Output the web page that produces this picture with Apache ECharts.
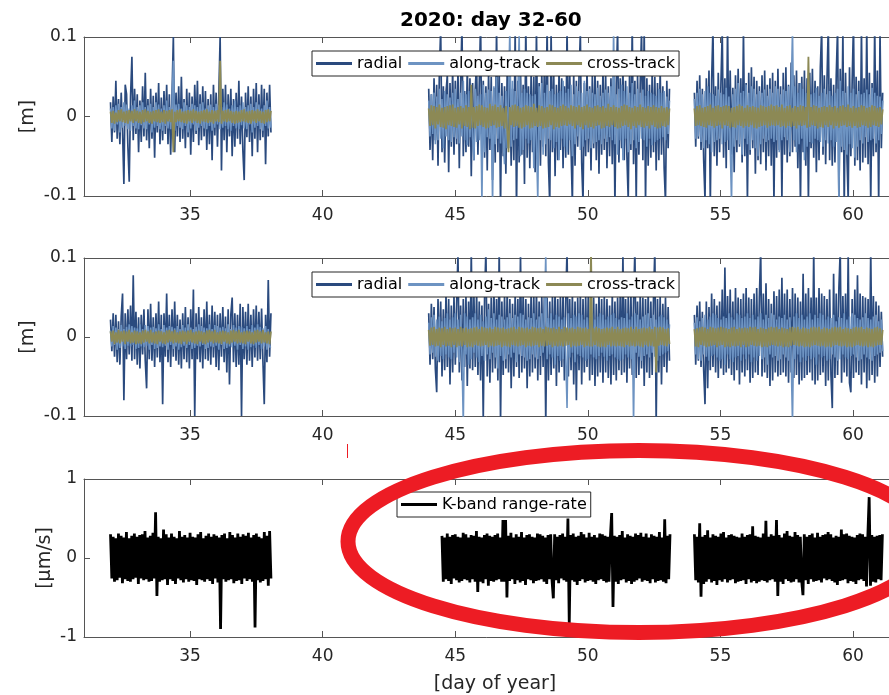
<!DOCTYPE html>
<html>
<head>
<meta charset="utf-8">
<title>2020: day 32-60</title>
<script src="https://cdn.jsdelivr.net/npm/echarts@6/dist/echarts.min.js"></script>
<style>
  html, body { margin: 0; padding: 0; background: #fff; }
  #chartDom { width: 889px; height: 695px; }
</style>
</head>
<body>
<div id="chartDom"></div>
<script>
// 时间段 (day of year)，每段的起止
const spansOrbit = [[32.0, 38.05], [44.0, 53.08], [54.02, 61.12]];
const spansKband = [[32.0, 38.05], [44.5, 53.1], [54.02, 61.11]];
const xTicks = [35, 40, 45, 50, 55, 60];

// 上图 [mm]，每 0.05 天一个值
const radial1 = [
  [18,-32,25,-20,45,-28,22,-35,30,-18,-85,40,28,-38,-82,25,75,-30,35,-22,
   28,-45,20,-32,38,-25,55,-30,22,-40,35,-28,26,-52,30,-20,42,-35,24,-30,
   32,-22,40,-35,28,-48,25,100,-45,30,-25,38,-32,50,-28,22,-40,35,-26,30,
   -48,25,-32,40,-22,45,-36,28,-30,38,-25,32,-42,22,-35,28,-55,40,-24,30,
   -38,26,100,-68,35,-30,40,-45,28,-25,35,-50,22,-38,30,-28,45,-35,25,-42,
   -80,30,-26,38,-32,25,-50,35,-28,42,-45,28,-30,40,-26,35,-60,30,-25,40,-20],
  [35,-42,28,-55,48,-30,40,-62,55,110,-45,38,-58,30,52,-70,42,-38,60,-48,
   45,-35,58,-65,40,115,-50,32,-45,62,-38,48,-75,42,-55,35,68,-48,40,120,
   -60,45,-52,38,-68,55,-42,50,-80,36,-58,112,-45,60,-115,42,-50,38,-72,58,
   -40,48,-62,35,-55,108,-120,45,-58,62,-48,40,-85,118,-52,38,-65,55,-45,50,
   -70,110,-48,42,-62,55,-38,68,-50,115,-58,-110,108,-45,52,-75,40,-55,60,-42,
   48,-65,38,-52,112,-48,58,-40,-110,55,-62,45,-38,50,105,-58,-108,42,-50,62,
   -45,38,-68,52,-40,58,-55,45,-72,40,-48,60,-42,55,-65,38,-50,48,-60,55,
   -112,42,110,-58,48,-40,62,-55,45,-50,-105,58,-42,115,-60,45,-108,52,-48,40,
   108,-55,112,-110,48,-62,40,-52,58,-45,50,-68,42,-55,60,-48,38,-65,-108,45,-40,35],
  [30,-38,45,-28,52,-42,35,-55,-105,48,-40,58,-110,45,112,-50,38,-62,55,-45,
   40,108,-52,48,-65,115,-42,58,-48,36,-70,52,-45,60,-38,48,-58,110,-50,42,
   -108,55,-48,62,-40,50,-72,45,-55,38,-60,52,-45,58,-68,40,-50,48,-62,55,
   -110,45,-52,60,-42,38,-105,55,-48,62,-58,40,-50,68,-45,52,-38,58,-65,42,
   -112,50,-45,58,-62,48,-108,55,-40,60,-52,45,-70,38,-55,62,110,-48,52,-60,
   45,115,-55,48,-62,40,-58,52,112,-110,60,-45,108,-115,55,-48,-105,62,-50,45,
   118,-62,50,-55,45,-68,110,-58,48,-52,112,-60,55,-108,42,-50,115,-45,58,-110,108,-40,30]
];
const along1 = [
  [10,-15,12,-18,14,-10,16,-20,12,-14,18,-12,15,-16,10,-18,14,-12,20,-15,
   12,-16,14,-11,18,-15,12,-16,14,-10,16,-20,12,-14,18,-12,15,-16,10,-18,
   14,-12,20,-15,12,-16,14,70,-18,15,-12,16,-14,10,-16,18,-12,14,-20,12,
   -15,16,-10,14,-18,12,-14,16,-12,18,-15,10,-16,14,-12,15,-18,12,-14,16,
   -10,14,-16,12,-14,18,-12,15,-16,10,-18,14,-12,20,-15,12,-16,14,-11,18,
   -15,12,-16,14,-10,16,-20,12,-14,18,-12,15,-16,10,-18,14,-12,20,-15,12,-14],
  [20,-25,28,-22,30,-35,25,-30,35,-28,22,-40,32,-25,28,-30,24,-32,30,-26,
   35,-28,22,-34,30,-25,45,-30,28,-36,32,-26,30,-28,-55,35,-32,26,-30,28,
   -110,40,-45,30,-26,34,-28,32,-112,38,-35,50,-28,30,-34,26,-32,-60,32,-40,
   30,110,-38,45,-30,32,-28,26,105,-50,30,-42,35,-28,30,-34,28,-30,26,-65,
   28,-32,-105,38,-30,42,-48,30,-35,40,-28,32,-30,35,-40,28,-32,30,-55,32,
   -28,45,-38,30,-45,35,-30,40,-50,28,-35,38,-25,32,-42,30,-38,45,-30,32,
   -28,35,-40,30,-34,28,-32,36,-30,26,-35,30,-28,34,-32,30,-26,38,-30,110,
   -35,28,-48,35,-30,40,-55,32,-28,38,-45,30,-35,42,-30,28,-40,35,-32,30,
   -28,34,-30,26,-38,32,-28,30,-36,28,-32,26,-30,35,-28,30,-26,32,-30,25,-22,20],
  [22,-28,30,-25,35,-32,28,-40,32,-30,38,-35,30,-45,28,-32,26,-30,34,-28,
   30,-35,28,-32,36,-30,25,-34,-110,28,-38,35,-30,42,-35,30,-48,32,-28,40,
   -35,30,-42,38,-30,35,-40,28,-50,32,-35,30,-28,34,-32,26,-30,35,-28,30,
   -32,38,-30,35,-45,28,-30,34,-26,32,-30,38,-45,30,110,-30,38,-45,30,-35,
   42,-28,35,-55,30,-38,40,-32,28,-34,30,-28,36,-30,26,-32,30,-38,35,-30,
   28,-34,32,-30,26,-38,30,-32,35,-108,45,-38,32,-42,30,-48,38,-35,30,-40,
   35,-52,28,-38,32,-30,28,-34,30,-26,34,-32,28,-30,36,-28,30,-34,26,-30,25,-22,20]
];
const cross1 = [
  [6,-8,7,-9,5,-7,8,-6,9,-7,6,-8,7,-9,8,-6,7,-8,9,-6,
   7,-8,6,-9,8,-7,9,-6,7,-8,6,-9,7,-6,8,-7,9,-8,6,-7,
   8,-9,7,-6,8,-7,9,-45,6,-7,8,-6,9,-7,6,-8,7,-9,8,-6,
   7,-8,9,-6,7,-8,6,-9,7,-6,8,-7,9,-8,6,-7,8,-9,7,-6,
   8,-7,70,-9,7,-6,8,-7,9,-6,7,-8,6,-9,7,-8,6,-7,8,-6,
   9,-7,6,-8,7,-9,8,-6,7,-8,9,-6,7,-8,6,-9,8,-7,9,-6,7],
  [10,-12,14,-11,13,-15,12,-10,15,-13,11,-14,12,-16,13,-11,14,-12,15,-13,
   11,-14,12,-10,13,-15,11,-12,14,-13,12,-16,40,-14,12,-15,13,-12,15,-11,
   14,-13,12,-15,11,-14,16,-12,13,-11,15,-14,12,-13,14,-12,11,-15,13,-16,
   -45,12,-11,14,-13,15,-12,13,-14,11,-15,12,-13,14,-11,13,-15,12,-14,16,
   -12,11,-13,14,-12,13,-15,11,-14,12,-13,15,-11,14,-16,12,-13,11,-14,13,
   -12,15,-11,13,-12,11,-10,14,-12,13,-15,12,-11,14,-13,12,-16,13,-11,15,
   -14,12,-13,11,-15,13,-12,14,-11,12,-15,13,-14,11,-12,16,-13,12,-11,14,
   -13,12,-15,11,-14,13,-12,15,-11,14,-13,12,-16,11,-12,13,-14,12,-11,15,
   -13,12,-14,11,-12,13,-15,12,-11,14,-13,12,-15,11,-14,13,-12,11,-13,12,-11,10],
  [10,-12,13,-11,14,-12,11,-13,12,-14,13,-11,15,-12,11,-14,13,-12,14,-11,
   12,-15,13,-11,14,-12,13,-14,11,-13,12,-14,13,-11,15,-12,13,-14,11,-12,
   14,-13,12,-11,13,-14,12,-15,11,-13,14,-12,13,-11,12,-14,13,-12,15,-11,
   13,-12,14,-11,12,-13,15,-12,11,-14,13,-12,14,-13,11,-12,13,-15,12,-11,
   14,-12,13,-11,12,-14,75,-13,12,-11,14,-12,13,-15,11,-13,12,-14,13,-11,
   12,-13,14,-11,12,-15,13,-12,11,-14,13,-12,14,-11,12,-13,15,-12,11,-14,
   13,-12,11,-14,12,-13,14,-11,13,-12,11,-14,12,-13,14,-11,13,-12,11,-13,12,-10,9]
];

// 中图 [mm]
const radial2 = [
  [22,-18,30,-25,28,-32,20,-35,26,55,-80,30,-28,35,-22,40,-30,78,-28,32,
   -35,25,-40,28,-22,35,-30,-65,35,-28,42,-30,25,-38,30,-26,45,-32,28,-85,
   30,-25,55,-32,28,-38,35,-25,45,-30,28,-35,22,-40,30,-28,38,-32,25,-40,
   35,-28,60,-100,30,-28,38,-32,25,-40,35,-28,45,-30,28,-35,40,-26,32,-38,
   28,-42,30,-25,38,-32,26,-45,35,-60,28,50,-32,30,-38,28,-35,42,-100,38,
   -28,32,-35,42,-30,28,-38,35,-26,40,-30,32,-28,36,-30,-85,28,-32,72,-25,30],
  [30,-35,42,-28,38,-40,-70,48,-32,45,-50,35,-42,55,-38,48,-60,40,-45,52,
   -35,42,105,-45,40,-55,48,-38,52,-62,45,-40,108,-42,52,-38,58,-48,45,-55,
   40,-105,50,110,-50,42,-58,50,-45,62,-40,48,-55,112,-108,45,-48,52,-40,58,
   -45,48,-65,42,-50,55,-38,48,-52,105,-45,55,-40,48,-65,42,-50,58,-45,52,
   -40,60,-55,45,-48,52,-38,58,-110,50,-55,45,-48,52,-40,60,-62,48,-45,52,
   -38,58,-55,45,110,-50,48,-42,55,-60,45,-80,50,-42,55,-60,48,-45,52,-38,
   58,-55,45,-48,50,-62,42,-50,55,-45,48,-58,52,-45,48,-52,40,-60,55,-48,
   45,-55,50,-42,58,-48,105,-45,48,-58,52,-40,55,-48,45,110,-52,45,-48,55,
   -40,50,-62,48,-45,58,-52,45,-48,50,110,-110,48,-45,52,-60,42,-38,50,-45,38,-30],
  [28,-35,40,-30,45,-38,32,-42,-85,45,-65,38,-42,55,-38,48,-45,40,-52,45,
   -40,60,-48,88,-45,52,-40,60,-48,45,-55,62,-42,50,-60,48,-45,55,-50,62,
   -42,50,-58,48,-52,55,-45,62,-48,50,110,-50,55,-45,68,-52,48,-62,42,-55,
   58,-45,52,-50,60,-48,75,-45,55,-50,60,-58,48,-45,62,-52,55,-48,50,-60,
   45,-55,80,-52,55,-48,62,-45,50,-55,110,-60,50,-55,62,-48,55,-45,52,-62,
   48,-55,60,-48,-90,80,-52,55,-48,62,110,-58,52,-45,55,-50,105,-58,-70,48,
   -52,60,-45,78,-48,55,-60,52,-45,50,-65,48,-55,110,-48,52,-58,45,-50,40,-38,32,-25]
];
const along2 = [
  [8,-12,14,-10,12,-16,10,-14,15,-12,10,-15,13,-11,16,-12,14,-10,12,-15,
   11,-14,16,-12,10,-13,15,-11,14,-16,12,-10,13,-15,11,-14,16,-12,10,-13,
   15,-11,12,-16,14,-10,13,-15,11,-12,14,-16,10,-13,15,-11,12,-14,16,-10,
   12,-15,10,-14,13,-11,16,-12,14,-10,12,-15,11,-14,16,-12,10,-13,15,-11,
   14,-16,12,-10,13,-15,11,-14,16,-12,10,-13,15,-11,12,-16,14,-10,13,-15,
   11,-12,14,-16,10,-13,15,-11,12,-14,16,-10,13,-15,11,-12,14,-16,10,-13,-12],
  [18,-22,25,-20,28,-25,22,-30,26,-24,20,-28,24,-22,30,-26,22,-28,25,-20,
   30,-26,22,-32,28,-24,-110,30,-22,26,-35,22,-28,25,-20,30,-26,22,-32,28,
   -24,20,-30,26,-22,35,-28,24,-20,30,-26,22,-40,28,-24,26,-30,22,-28,25,
   -22,30,-26,24,-20,28,-32,26,-22,30,-24,28,-26,22,-30,25,-28,24,-22,30,
   -26,22,-28,26,-24,30,-20,28,105,-28,24,-22,30,-26,22,-35,28,-24,26,-30,
   22,-28,25,-22,-90,30,-26,24,-20,28,-32,26,-22,30,-24,28,-26,22,-30,25,
   -28,24,-22,30,-26,22,-28,26,-24,30,-20,28,-25,22,-30,26,-24,28,-22,30,
   -26,24,-28,22,-30,25,-28,24,-22,30,-26,22,-28,26,-110,30,-20,28,-25,22,
   -30,26,-24,28,-22,30,-26,24,-20,28,-25,22,-30,26,-24,28,-22,25,-20,22,-18,16],
  [18,-22,25,-28,20,-30,24,-22,28,-25,22,-30,26,-24,30,-22,28,-26,24,-30,
   22,-28,26,-35,24,-22,30,-28,25,-32,22,-26,30,-24,28,-30,24,-22,26,-28,
   30,-22,24,-32,28,-26,22,-30,26,-24,30,-28,22,-26,28,-35,24,-22,30,-26,
   28,-24,22,-30,26,-28,24,-22,28,-26,22,-30,25,-28,-110,26,-28,30,-22,24,
   -32,28,-26,22,-30,26,-24,30,-28,22,-26,28,-35,24,-22,30,-26,28,-24,22,
   -30,26,-28,24,-22,28,-26,20,-30,25,-28,24,-22,30,-26,22,-28,26,-24,30,
   -22,28,-26,24,-30,22,-28,25,-22,30,-26,24,-28,22,-30,26,-24,28,-22,20,-20,22,-18]
];
const cross2 = [
  [7,-6,8,-9,6,-7,9,-8,7,-6,8,-9,7,-6,9,-8,6,-7,8,-9,
   7,-8,6,-9,8,-7,9,-6,7,-8,9,-7,6,-8,7,-9,8,-6,7,-8,
   6,-9,8,-7,9,-6,7,-8,9,-7,6,-8,7,-9,8,-6,7,-9,8,-6,
   9,-7,6,-8,7,-9,8,-6,7,-8,6,-9,8,-7,9,-6,7,-8,9,-7,
   6,-8,7,-9,8,-6,7,-8,6,-9,8,-7,9,-6,7,-8,9,-7,6,-8,
   7,-9,8,-6,7,-8,6,-9,8,-7,9,-6,7,-8,9,-7,6,-8,7,-9,7],
  [9,-11,12,-10,13,-12,10,-11,12,-13,11,-10,13,-12,10,-11,12,-13,11,-10,
   12,-13,10,-11,13,-12,11,-10,12,-13,10,-12,11,-13,12,-10,13,-11,10,-12,
   13,-11,12,-10,11,-13,12,-11,10,-12,13,-11,12,-10,11,-13,12,-11,10,-12,
   11,-13,12,-10,13,-11,10,-12,13,-11,12,-10,11,-13,12,-11,10,-12,13,-11,
   12,-10,11,-13,12,-11,10,-12,13,-11,12,-10,11,-13,12,-11,10,-12,13,-11,
   10,-12,13,-11,12,-10,11,-13,12,-11,10,-12,13,-11,12,-10,11,-13,12,-11,
   10,-12,110,-12,11,-10,13,-12,11,-13,10,-12,11,-13,12,-10,11,-12,13,-11,
   10,-12,13,-11,10,-12,11,-13,12,-10,11,-12,13,-11,10,-12,13,-11,10,-12,
   11,-13,12,-10,11,-12,13,-11,10,-12,13,-45,12,-11,13,-10,12,-11,10,-12,11,-9],
  [10,-12,11,-13,12,-10,13,-11,12,-13,10,-12,13,-11,12,-10,11,-13,12,-11,
   13,-10,12,-13,11,-12,10,-13,12,-11,13,-12,10,-11,12,-13,11,-10,12,-13,
   11,-12,13,-10,12,-11,13,-12,10,-11,12,-13,11,-12,10,-13,12,-11,13,-10,
   12,-11,13,-12,10,-11,12,-13,11,-12,10,-13,12,-11,13,-10,12,-11,13,-12,
   10,-11,12,-13,11,-12,10,-13,12,-11,13,-10,12,-11,13,-12,10,-11,12,-13,
   11,-12,10,-13,12,-11,13,-10,12,-11,13,-12,10,-11,12,-13,11,-12,10,-13,
   12,-11,13,-10,12,-11,13,-12,10,-11,12,-13,11,-12,10,-13,12,-11,13,-10,11,-10,9]
];

// 下图 K-band range-rate [0.01 µm/s]，每 0.05 天
const kband = [
  [30,-26,27,-30,25,-28,31,-25,28,-32,26,-27,33,-29,25,-30,28,-27,31,-25,
   27,-33,29,-26,30,-28,34,-27,26,-30,28,-29,32,-26,58,-48,27,-30,25,-28,
   36,-27,30,-34,26,-27,31,-29,27,-33,25,-26,34,-28,27,-31,29,-27,26,-30,
   32,-28,27,-29,26,-34,30,-27,33,-28,25,-30,28,-27,31,-29,27,-33,30,-26,
   28,-31,26,-90,29,-27,31,-30,25,-28,33,-27,29,-32,26,-29,31,-28,27,-33,
   30,-26,28,-29,32,-27,26,-30,29,-88,31,-28,27,-31,25,-29,33,-27,28,-35,34,-26],
  [28,-30,26,-27,31,-29,27,-33,29,-26,30,-28,27,-31,26,-29,32,-27,30,-28,
   26,-31,29,-27,28,-30,34,-43,27,-30,26,-32,29,-27,31,-35,28,-29,27,-30,
   29,-28,31,-27,26,-30,48,-30,48,-50,28,-29,32,-27,26,-33,30,-28,27,-31,
   33,-29,26,-34,29,-27,30,-28,27,-32,26,-29,31,-28,30,-27,28,-30,26,-33,
   29,-27,30,-28,-51,30,-28,27,-32,29,-26,31,-28,27,-30,50,-83,29,-28,31,
   -30,27,-34,28,-29,33,-27,30,-31,26,-29,32,-28,27,-30,29,-33,26,-28,31,
   -27,30,-29,28,-31,27,-30,26,57,-62,28,-30,27,-33,29,-28,34,-27,26,-31,
   30,-29,28,-33,27,-30,31,-28,29,-26,32,-30,27,-28,31,-29,26,-32,30,-27,
   28,-31,27,-29,33,-28,26,-30,49,-32,28,-27,30],
  [30,-28,27,-31,44,-49,27,-33,29,-30,35,-27,26,-31,30,-29,28,-34,27,-28,
   31,-30,33,-27,26,-31,29,-28,30,-27,28,-32,27,-30,26,-29,31,-28,27,-33,
   29,-27,30,-31,40,-29,28,-32,27,-30,26,-28,31,-29,47,-31,27,-28,30,-27,
   28,-30,48,-48,29,-30,26,-33,31,-27,34,-29,28,-31,27,-30,33,-27,29,-31,
   27,-28,-47,30,-28,27,-33,29,-27,31,-30,26,-29,32,-28,27,-31,29,-26,30,
   -28,33,-27,30,-29,26,-31,28,-34,27,-29,36,-28,30,-27,31,-32,28,-29,27,
   -30,26,-33,29,-28,31,-27,30,-29,27,-36,28,77,-35,29,-30,27,-31,28,-27,29,-28,30]
];

// 把每段的值按时间展开，段与段之间断开
function build(segs, spans, scale) {
  const out = [];
  segs.forEach((vals, s) => {
    const t0 = spans[s][0], t1 = spans[s][1];
    const dt = (t1 - t0) / (vals.length - 1);
    vals.forEach((v, i) => out.push([t0 + i * dt, v * scale]));
    if (s < segs.length - 1) out.push([t1 + 0.5, '-']);
  });
  return out;
}

const font = 'DejaVu Sans';
const axisColor = '#555';
const textColor = '#262626';
const cRadial = '#2a4a7e';
const cAlong = '#6d93c2';
const cCross = '#8c8955';

function xBottom(grid, withName) {
  return {
    type: 'value', gridIndex: grid, position: 'bottom', min: 31, max: 62,
    axisLine: { show: true, onZero: false, lineStyle: { color: axisColor } },
    axisTick: { show: true, inside: true, length: 6, customValues: xTicks, lineStyle: { color: axisColor } },
    axisLabel: { show: true, customValues: xTicks, margin: 11, fontSize: 17, fontFamily: font, color: textColor },
    splitLine: { show: false },
    name: withName ? '[day of year]' : '',
    nameLocation: 'middle', nameGap: 38, nameMoveOverlap: false,
    nameTextStyle: { fontSize: 19, fontFamily: font, color: textColor }
  };
}
function xTop(grid) {
  return {
    type: 'value', gridIndex: grid, position: 'top', min: 31, max: 62,
    axisLine: { show: true, onZero: false, lineStyle: { color: axisColor } },
    axisTick: { show: true, inside: true, length: 6, customValues: xTicks, lineStyle: { color: axisColor } },
    axisLabel: { show: false },
    splitLine: { show: false }
  };
}
function yAx(grid, lim, name, gap) {
  return {
    type: 'value', gridIndex: grid, min: -lim, max: lim, interval: lim,
    axisLine: { show: true, onZero: false, lineStyle: { color: axisColor } },
    axisTick: { show: true, inside: true, length: 6, lineStyle: { color: axisColor } },
    axisLabel: { margin: 7, fontSize: 17, fontFamily: font, color: textColor },
    splitLine: { show: false },
    name: name, nameLocation: 'middle', nameGap: gap, nameMoveOverlap: false,
    nameTextStyle: { fontSize: 19, fontFamily: font, color: textColor }
  };
}
function line(name, data, xi, yi, color, width) {
  return {
    name: name, type: 'line', data: data, xAxisIndex: xi, yAxisIndex: yi,
    showSymbol: false, symbol: 'none', connectNulls: false, clip: true,
    lineStyle: { color: color, width: width }, itemStyle: { color: color },
    animation: false
  };
}
function legendBox(left, top, names) {
  return {
    left: left, top: top, orient: 'horizontal', data: names,
    icon: 'rect', itemWidth: 36, itemHeight: 3, itemGap: 6,
    padding: [1, 4, 1, 4],
    backgroundColor: '#fff', borderColor: '#262626', borderWidth: 1,
    textStyle: { fontSize: 16, fontFamily: font, color: '#000', lineHeight: 23 },
    selectedMode: false
  };
}

const chart = echarts.init(document.getElementById('chartDom'));
chart.setOption({
  animation: false,
  backgroundColor: '#fff',
  title: {
    text: '2020: day 32-60', left: 400, top: 11, padding: 0,
    textStyle: { fontSize: 20, fontWeight: 'bold', fontFamily: font, color: '#000' }
  },
  grid: [
    { left: 84, width: 822, top: 37, height: 159, outerBoundsMode: 'none' },
    { left: 84, width: 822, top: 258, height: 158, outerBoundsMode: 'none' },
    { left: 84, width: 822, top: 479, height: 158, outerBoundsMode: 'none' }
  ],
  xAxis: [xBottom(0), xTop(0), xBottom(1), xTop(1), xBottom(2, true), xTop(2)],
  yAxis: [yAx(0, 0.1, '[m]', 46), yAx(1, 0.1, '[m]', 46), yAx(2, 1, '[µm/s]', 29)],
  legend: [
    legendBox(312, 51, ['radial', 'along-track', 'cross-track']),
    legendBox(312, 272, ['radial', 'along-track', 'cross-track']),
    legendBox(397, 492, ['K-band range-rate'])
  ],
  series: [
    line('radial', build(radial1, spansOrbit, 0.001), 0, 0, cRadial, 1.7),
    line('along-track', build(along1, spansOrbit, 0.001), 0, 0, cAlong, 1.6),
    line('cross-track', build(cross1, spansOrbit, 0.001), 0, 0, cCross, 1.8),
    line('radial', build(radial2, spansOrbit, 0.001), 2, 1, cRadial, 1.7),
    line('along-track', build(along2, spansOrbit, 0.001), 2, 1, cAlong, 1.6),
    line('cross-track', build(cross2, spansOrbit, 0.001), 2, 1, cCross, 1.8),
    line('K-band range-rate', build(kband, spansKband, 0.01), 4, 2, '#000', 2.8)
  ],
  graphic: [
    // 红色椭圆标注
    { type: 'ellipse', z: 100, shape: { cx: 639, cy: 541.5, rx: 291, ry: 91 },
      style: { fill: 'none', stroke: '#ed1c24', lineWidth: 15 } },
    { type: 'line', z: 100, shape: { x1: 347.5, y1: 444, x2: 347.5, y2: 458 },
      style: { stroke: '#ed1c24', lineWidth: 1 } }
  ]
});
</script>
</body>
</html>
